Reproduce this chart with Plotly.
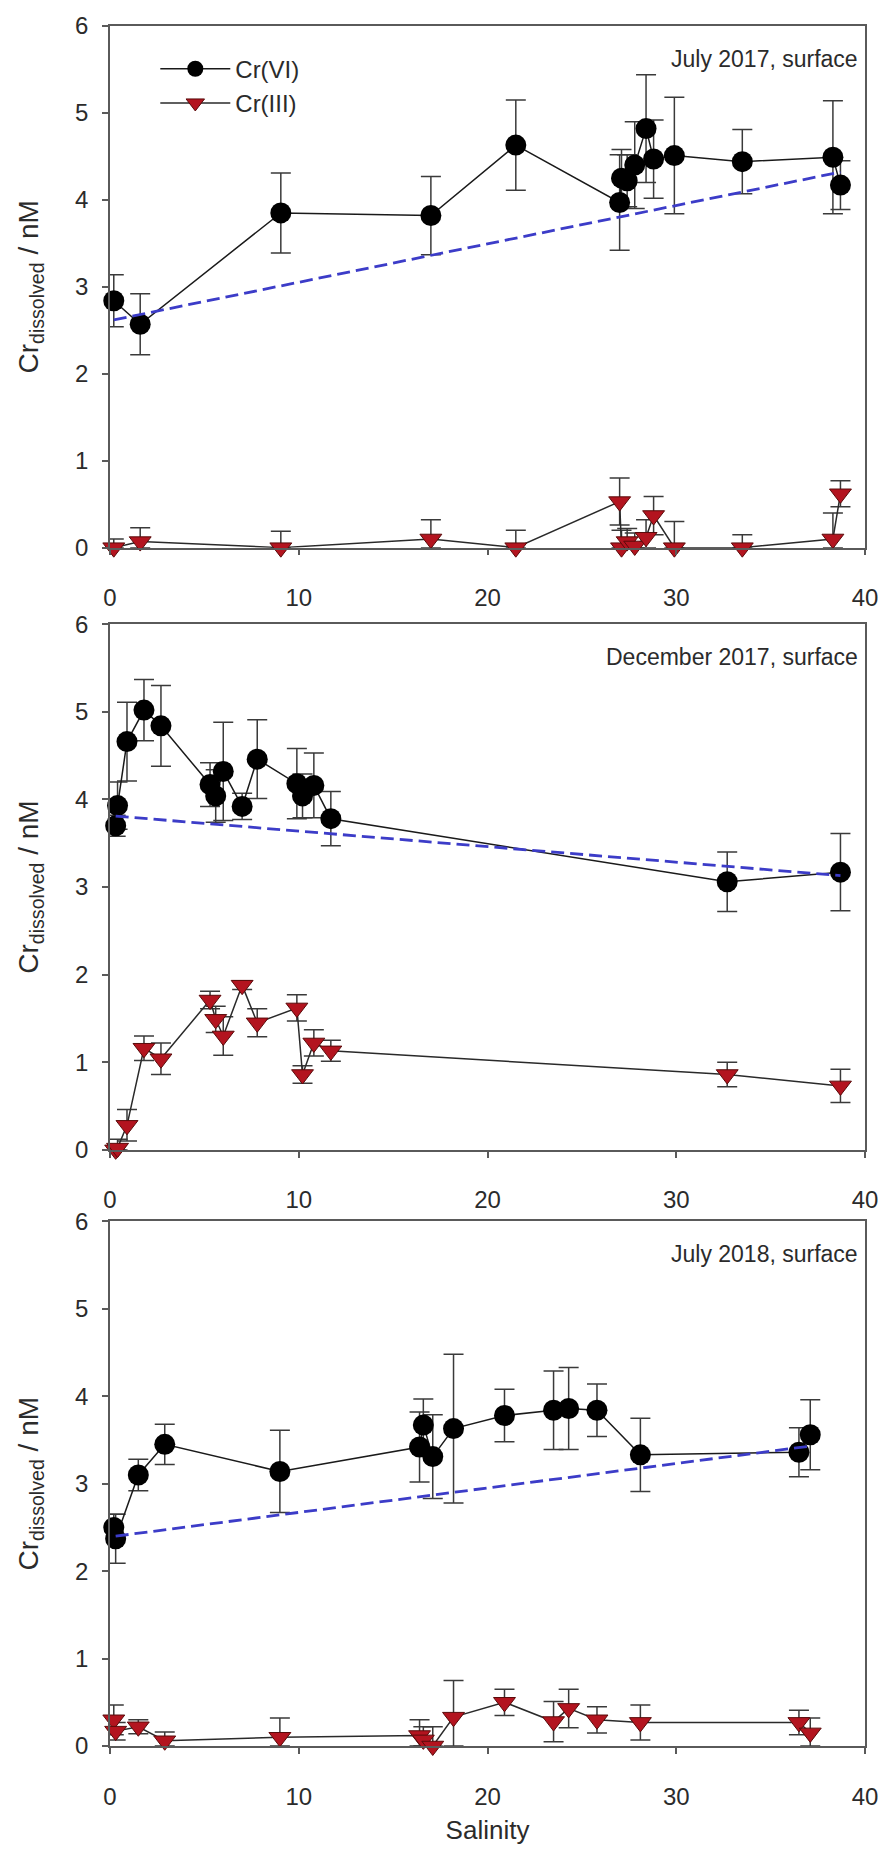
import plotly.graph_objects as go
from plotly.subplots import make_subplots

# ---------------- data ----------------
# July 2017, surface
sal_jul17 = [0.2, 1.6, 9.05, 17.0, 21.5, 27.0, 27.1, 27.4, 27.8, 28.4, 28.8, 29.9, 33.5, 38.3, 38.7]
crvi_jul17 = [2.84, 2.57, 3.85, 3.82, 4.63, 3.97, 4.25, 4.22, 4.40, 4.82, 4.47, 4.51, 4.44, 4.49, 4.17]
crvi_err_jul17 = [0.30, 0.35, 0.46, 0.45, 0.52, 0.55, 0.33, 0.30, 0.50, 0.62, 0.45, 0.67, 0.37, 0.65, 0.28]
criii_jul17 = [0.0, 0.07, 0.0, 0.10, 0.0, 0.53, 0.0, 0.07, 0.02, 0.12, 0.37, 0.0, 0.0, 0.10, 0.62]
criii_err_jul17 = [0.10, 0.16, 0.19, 0.22, 0.20, 0.27, 0.20, 0.15, 0.15, 0.20, 0.22, 0.30, 0.15, 0.30, 0.15]
mix_sal_jul17 = [0.2, 38.7]
mix_cr_jul17 = [2.62, 4.32]

# December 2017, surface
sal_dec17 = [0.3, 0.4, 0.9, 1.8, 2.7, 5.3, 5.6, 6.0, 7.0, 7.8, 9.9, 10.2, 10.8, 11.7, 32.7, 38.7]
crvi_dec17 = [3.70, 3.93, 4.66, 5.02, 4.84, 4.17, 4.04, 4.32, 3.92, 4.46, 4.18, 4.04, 4.16, 3.78, 3.06, 3.17]
crvi_err_dec17 = [0.12, 0.27, 0.45, 0.35, 0.46, 0.25, 0.30, 0.56, 0.15, 0.45, 0.40, 0.25, 0.37, 0.31, 0.34, 0.44]
criii_dec17 = [0.0, 0.02, 0.28, 1.16, 1.04, 1.71, 1.49, 1.30, 1.88, 1.45, 1.62, 0.86, 1.22, 1.13, 0.86, 0.73]
criii_err_dec17 = [0.05, 0.10, 0.18, 0.14, 0.18, 0.10, 0.15, 0.22, 0.05, 0.16, 0.15, 0.10, 0.15, 0.12, 0.14, 0.19]
mix_sal_dec17 = [0.3, 38.7]
mix_cr_dec17 = [3.81, 3.13]

# July 2018, surface
sal_jul18 = [0.2, 0.3, 1.5, 2.9, 9.0, 16.4, 16.6, 17.1, 18.2, 20.9, 23.5, 24.3, 25.8, 28.1, 36.5, 37.1]
crvi_jul18 = [2.50, 2.37, 3.10, 3.45, 3.14, 3.42, 3.67, 3.31, 3.63, 3.78, 3.84, 3.86, 3.84, 3.33, 3.36, 3.56]
crvi_err_jul18 = [0.15, 0.28, 0.18, 0.23, 0.47, 0.40, 0.30, 0.48, 0.85, 0.30, 0.45, 0.47, 0.30, 0.42, 0.28, 0.40]
criii_jul18 = [0.30, 0.17, 0.22, 0.06, 0.10, 0.12, 0.07, 0.0, 0.33, 0.50, 0.28, 0.43, 0.30, 0.27, 0.27, 0.15]
criii_err_jul18 = [0.17, 0.10, 0.08, 0.10, 0.22, 0.18, 0.15, 0.22, 0.42, 0.15, 0.23, 0.22, 0.15, 0.20, 0.14, 0.17]
mix_sal_jul18 = [0.3, 37.1]
mix_cr_jul18 = [2.40, 3.43]

panel_labels = ["July 2017, surface", "December 2017, surface", "July 2018, surface"]
x_ticks = [0, 10, 20, 30, 40]
y_ticks = [0, 1, 2, 3, 4, 5, 6]

panels = [
    (sal_jul17, crvi_jul17, crvi_err_jul17, criii_jul17, criii_err_jul17, mix_sal_jul17, mix_cr_jul17),
    (sal_dec17, crvi_dec17, crvi_err_dec17, criii_dec17, criii_err_dec17, mix_sal_dec17, mix_cr_dec17),
    (sal_jul18, crvi_jul18, crvi_err_jul18, criii_jul18, criii_err_jul18, mix_sal_jul18, mix_cr_jul18),
]

# ---------------- style ----------------
FONT = "Liberation Sans, Arial, sans-serif"
TXT = "#2b2b2b"
AX = "#5a5a5a"
ERR = "#3a3a3a"
RED = "#b3141f"

fig = make_subplots(rows=3, cols=1)

for i, (sal, vi, vie, iii, iiie, msal, mcr) in enumerate(panels):
    row = i + 1
    first = (i == 0)
    fig.add_trace(go.Scatter(
        x=sal, y=vi, mode="lines+markers", name="Cr(VI)", showlegend=first,
        line=dict(color="#1a1a1a", width=1.5),
        marker=dict(symbol="circle", size=21, color="#000000"),
        error_y=dict(type="data", array=vie, color=ERR, thickness=1.5, width=10),
        cliponaxis=False,
    ), row=row, col=1)
    fig.add_trace(go.Scatter(
        x=sal, y=iii, mode="lines+markers", name="Cr(III)", showlegend=first,
        line=dict(color="#2a2a2a", width=1.5),
        marker=dict(symbol="triangle-down", size=19, color=RED,
                    line=dict(color="#5a0a0a", width=1)),
        error_y=dict(type="data", array=iiie,
                     arrayminus=[min(e, v) for e, v in zip(iiie, iii)],
                     color=ERR, thickness=1.5, width=10),
        cliponaxis=False,
    ), row=row, col=1)
    fig.add_trace(go.Scatter(
        x=msal, y=mcr, mode="lines", showlegend=False,
        line=dict(color="#3c3cc8", width=2.8, dash="13px,6px"),
        hoverinfo="skip",
    ), row=row, col=1)
    fig.add_annotation(
        text=panel_labels[i], xref="x domain" if i == 0 else f"x{row} domain",
        yref="y domain" if i == 0 else f"y{row} domain",
        x=0.993, y=0.937, xanchor="right", yanchor="middle", showarrow=False,
        font=dict(family=FONT, size=23, color=TXT),
    )

domains = [[0.6967, 1.0], [0.3466, 0.6522], [0.0, 0.305]]
for i in range(3):
    sfx = "" if i == 0 else str(i + 1)
    fig.layout["yaxis" + sfx].update(
        domain=domains[i], range=[0, 6], tickvals=y_ticks,
        showline=True, linecolor=AX, linewidth=1.5, mirror=True,
        ticks="outside", ticklen=6, tickcolor=AX, tickwidth=1.5,
        showgrid=False, zeroline=False,
        tickfont=dict(family=FONT, size=24, color=TXT),
        ticklabelstandoff=9,
        title=dict(text="Cr<sub>dissolved</sub> / nM",
                   font=dict(family=FONT, size=28, color=TXT), standoff=28),
    )
    fig.layout["xaxis" + sfx].update(
        range=[0, 40], tickvals=x_ticks,
        showline=True, linecolor=AX, linewidth=1.5, mirror=True,
        ticks="outside", ticklen=6, tickcolor=AX, tickwidth=1.5,
        showgrid=False, zeroline=False,
        tickfont=dict(family=FONT, size=24, color=TXT),
        ticklabelstandoff=22,
    )
fig.layout["xaxis3"].title = dict(text="Salinity", font=dict(family=FONT, size=26, color=TXT), standoff=12)

fig.update_layout(
    width=890, height=1852,
    margin=dict(l=110, r=18, t=25, b=96),
    paper_bgcolor="white", plot_bgcolor="white",
    font=dict(family=FONT, color=TXT),
    legend=dict(x=0.06, y=0.988, xanchor="left", yanchor="top",
                bgcolor="rgba(0,0,0,0)", font=dict(family=FONT, size=24, color=TXT),
                itemwidth=70, tracegroupgap=0),
)

fig.write_html(
    "out.html",
    config={"displayModeBar": False},
    post_script="document.body.style.margin='0';document.body.style.overflow='hidden';",
)
